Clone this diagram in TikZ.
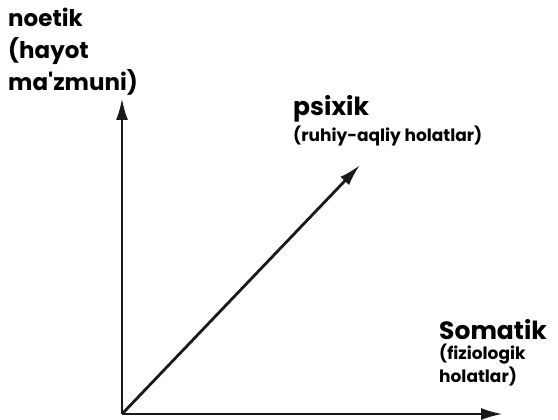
\documentclass[tikz,border=0pt]{standalone}
\usepackage{fontspec}
\setmainfont{Poppins}
\usetikzlibrary{positioning, arrows.meta}

\begin{document}
\begin{tikzpicture}[
            x=1pt, y=-1pt,
            axis/.style={-{Latex[length=22pt, width=12pt]}, line width=2.8pt, black!90},
            head/.style={anchor=west, inner sep=0pt, font=\fontsize{25}{30}\selectfont\bfseries},
            sub/.style={anchor=west, inner sep=0pt, align=left, font=\fontsize{17}{23}\selectfont\bfseries}
        ]
            \useasboundingbox (0,0) rectangle (558,420);
            \coordinate (o) at (122,414);
\coordinate (noetiktip) at (122,98);
            \coordinate (psixiktip) at (360,165);
            \coordinate (somatiktip) at (503,414);
            \node[head, align=left, font=\fontsize{23}{32}\selectfont\bfseries] (noetik) at (8,52) {noetik\\(hayot\\ma\textquotesingle zmuni)};
\node[head] (psixik) at (293,109) {psixik};
            \node[sub, below=3pt of psixik.south west, anchor=north west] (ruhiy) {(ruhiy-aqliy holatlar)};
            \node[head] (somatik) at (439,330) {Somatik};
            \node[sub, below=3pt of somatik.south west, anchor=north west] (fiziologik) {(fiziologik\\holatlar)};
            \draw[axis] (o) -- (noetiktip);
            \draw[axis] (o) -- (psixiktip);
\draw[axis] (o) -- (somatiktip);
        \end{tikzpicture}
\end{document}
